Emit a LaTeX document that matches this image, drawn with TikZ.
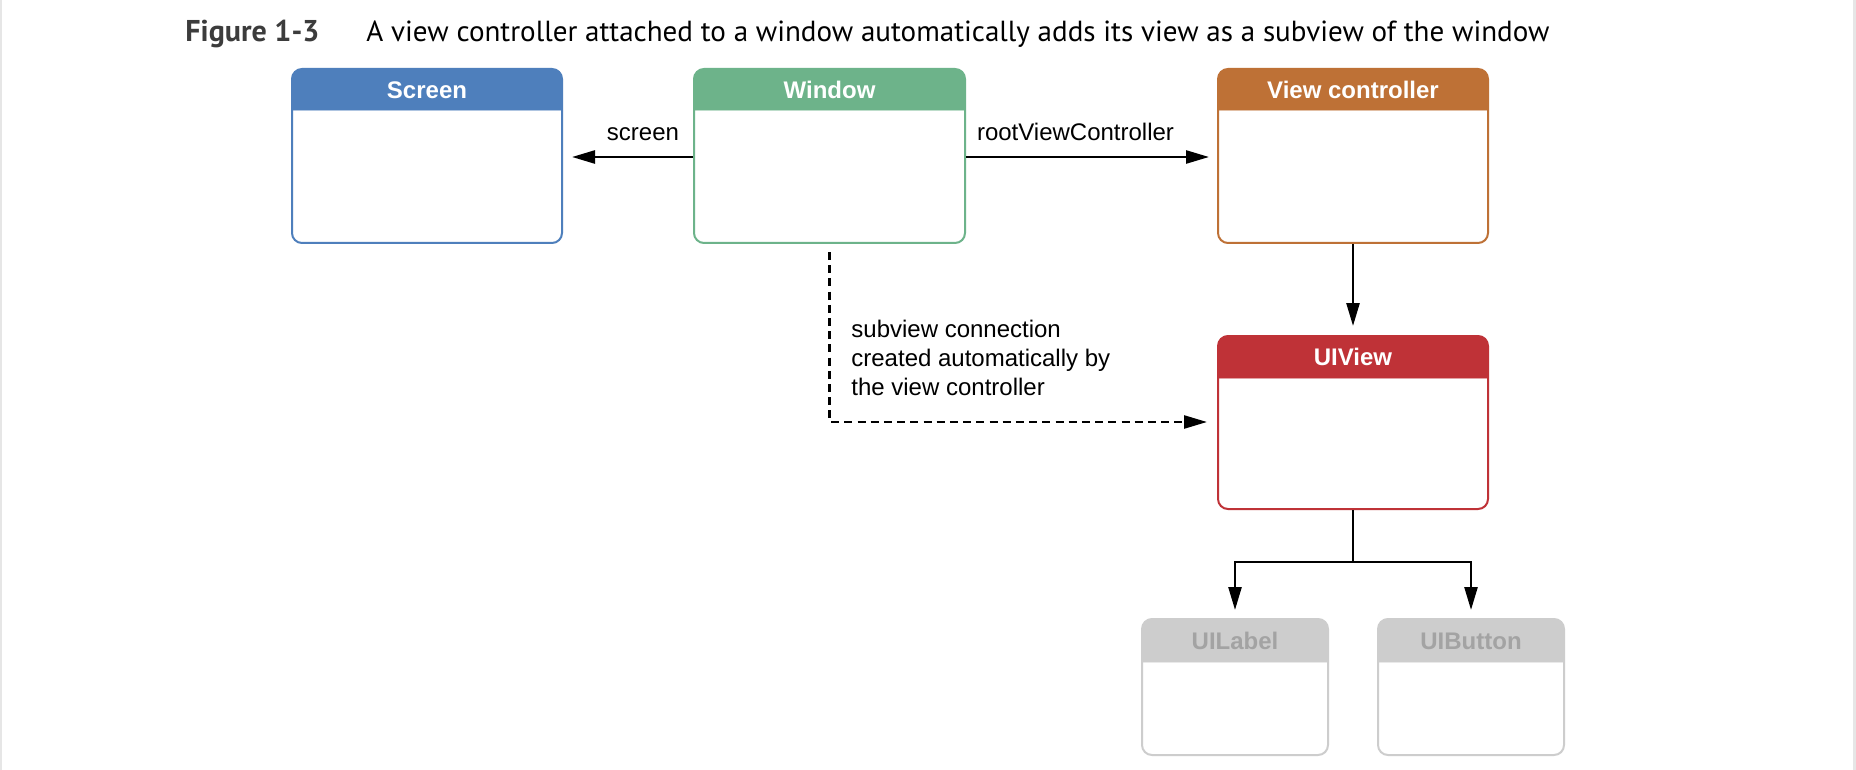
\documentclass[tikz,border=0pt]{standalone}
\usepackage{graphicx}
\usepackage{fontspec}
\setmainfont{Liberation Sans}
\newfontfamily\titlefont{PT Sans}
\usetikzlibrary{arrows.meta,fit}
\definecolor{scrblue}{HTML}{4E7FBC}
\definecolor{wingreen}{HTML}{6DB38A}
\definecolor{vcorange}{HTML}{BE7136}
\definecolor{uired}{HTML}{BF3237}
\definecolor{boxgray}{HTML}{CDCDCD}
\definecolor{txtgray}{HTML}{A3A3A3}
\definecolor{titlegray}{HTML}{3C3C3C}
\definecolor{edgegray}{HTML}{E6E6E6}
\tikzset{
  every node/.style={font=\fontsize{12}{14.5}\selectfont},
  boxframe/.style={line width=1pt, rounded corners=5pt, inner sep=0pt},
  headtext/.style={font=\fontsize{12}{14}\selectfont\bfseries, inner sep=0pt, text height=8.6pt, text depth=0pt},
  arr/.style={line width=1.25pt, -{Triangle[length=11.5pt,width=6.5pt]}},
  dashline/.style={dash pattern=on 4pt off 2.6pt},
  lbl/.style={inner sep=0pt, anchor=base}
}
% name, x1, y1, x2, y2, yheader, colour, title, title colour
\newcommand\umlbox[9]{%
  \fill[#7, rounded corners=5pt] (#2,#3) rectangle (#4,#6);
  \fill[#7] (#2,#6-14) rectangle (#4,#6);
  \draw[#7!45, line width=0.5pt] (#2+1,#6) -- (#4-1,#6);
  \node[boxframe, draw=#7, fit={(#2,#3) (#4,#5)}] (#1) {};
  \node[headtext, text=#9] (#1-title) at ({(#2+#4)/2},{(#3+#6)/2}) {#8};
}
\begin{document}
\begin{tikzpicture}[x=0.5pt,y=-0.5pt]
\useasboundingbox (0,0) rectangle (1856,770);
\fill[white] (0,0) rectangle (1856,770);
\fill[edgegray] (0,0) rectangle (2,770);
\fill[edgegray] (1853,0) rectangle (1856,770);

% title
\node[anchor=base west, inner sep=0pt, text=titlegray] (fignum) at (185,42)
  {\resizebox{67pt}{!}{\titlefont\bfseries Figure 1-3}};
\node[anchor=base west, inner sep=0pt] (caption) at (366,42)
  {\resizebox{591.5pt}{!}{\titlefont A view controller attached to a window automatically adds its view as a subview of the window}};

% boxes
\umlbox{scr}{292}{69}{562}{243}{111}{scrblue}{Screen}{white}
\umlbox{win}{694}{69}{965}{243}{111}{wingreen}{Window}{white}
\umlbox{vc}{1218}{69}{1488}{243}{111}{vcorange}{View controller}{white}
\umlbox{uiv}{1218}{336}{1488}{509}{378}{uired}{UIView}{white}
\umlbox{uil}{1142}{619}{1328}{755}{662}{boxgray}{UILabel}{txtgray}
\umlbox{uib}{1378}{619}{1564}{755}{662}{boxgray}{UIButton}{txtgray}

% connectors
\coordinate (ry) at (0,157);
\draw[arr, shorten >=4.5pt] (win.west |- ry) -- (scr.east |- ry);
\draw[arr, shorten >=4pt] (win.east |- ry) -- (vc.west |- ry);
\node[lbl] (lscreen) at (643,141) {screen};
\node[lbl] (lroot) at (1075.5,141) {rootViewController};

\draw[arr, shorten >=4.5pt] (vc.south) -- (uiv.north);

\coordinate (dy) at (0,422);
\draw[arr, dashline, shorten <=4pt, shorten >=5pt] (win.south) |- (uiv.west |- dy);
\node[anchor=north west, align=left, inner sep=0pt] (subtxt) at (851,319.5)
  {subview connection\\created automatically by\\the view controller};

\coordinate (fork) at (1353,562);
\draw[arr, shorten >=4pt] (uiv.south) -- (fork) -| (uil.north);
\draw[arr, shorten >=4pt] (fork) -| (uib.north);
\end{tikzpicture}
\end{document}
